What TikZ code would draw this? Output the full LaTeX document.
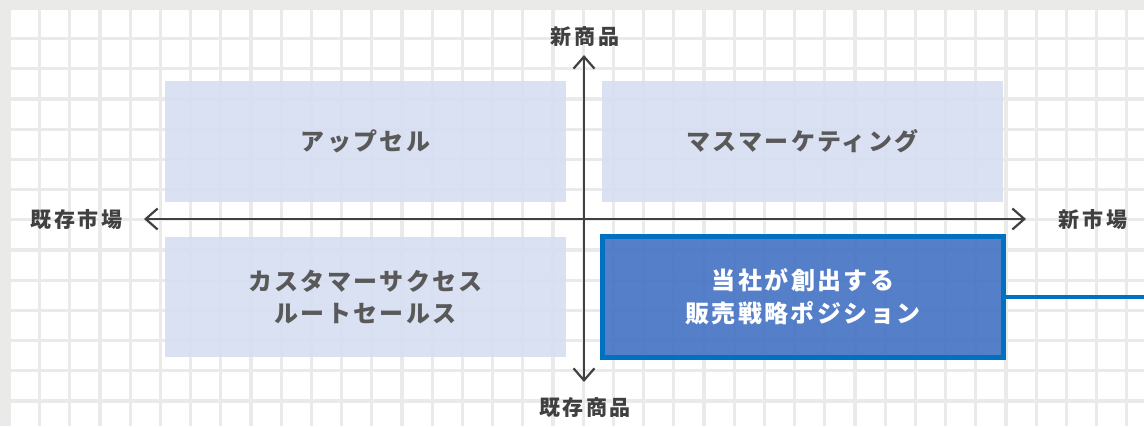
\documentclass[tikz,border=0pt]{standalone}
\usepackage{fontspec}
\setmainfont{Noto Sans CJK JP}
\newfontfamily\jpbox[LetterSpace=10]{Noto Sans CJK JP}
\newfontfamily\jpaxis[LetterSpace=12]{Noto Sans CJK JP}
\usetikzlibrary{arrows.meta}
\definecolor{gridgray}{RGB}{234,234,232}
\definecolor{lightbox}{RGB}{213,222,241}
\definecolor{darkbox}{RGB}{68,114,196}
\definecolor{darkborder}{RGB}{0,112,192}
\definecolor{axiscol}{RGB}{64,64,64}
\definecolor{boxtext}{RGB}{89,89,89}
\tikzset{
  lbox/.style={fill=lightbox, fill opacity=0.9, text opacity=1, inner sep=0pt,
    minimum width=401pt, text=boxtext, font=\jpbox\fontsize{24}{32}\selectfont\bfseries, align=center},
  dbox/.style={fill=darkbox, fill opacity=0.9, text opacity=1, draw=darkborder, draw opacity=1,
    line width=5pt, inner sep=0pt, minimum width=401pt, minimum height=121pt,
    text=white, font=\jpbox\fontsize{24}{33}\selectfont\bfseries, align=center},
  axis/.style={draw=axiscol, line width=2.2pt, {Straight Barb[length=12pt,width=21pt]}-{Straight Barb[length=12pt,width=21pt]}},
  axlabel/.style={text=axiscol, font=\jpaxis\fontsize{21}{24}\selectfont\bfseries, inner sep=0pt},
  link/.style={draw=darkborder, line width=4pt}
}
\begin{document}
\begin{tikzpicture}[x=1pt,y=-1pt]
\useasboundingbox (0,0) rectangle (1144,426);
\fill[gridgray] (0,0) rectangle (1144,426);
\fill[white] (11,10) rectangle (1144,426);
\foreach \i in {1,...,37} \fill[gridgray] ({11+30.2*\i-3.2},10) rectangle ({11+30.2*\i},426);
\foreach \j in {1,...,13} \fill[gridgray] (11,{10+30.2*\j-3.2}) rectangle (1144,{10+30.2*\j});

\node[lbox, minimum height=121pt] (ul) at (365.5,141.5) {アップセル};
\node[lbox, minimum height=121pt] (ur) at (802.5,141.5) {マスマーケティング};
\node[lbox, minimum height=120pt] (ll) at (365.5,297) {カスタマーサクセス\\ルートセールス};
\node[dbox] (lr) at (803,297) {当社が創出する\\販売戦略ポジション};
\coordinate (edge) at (1144,297);
\draw[link] (lr.east) -- (edge);

\node[axlabel] (top) at (585,37) {新商品};
\node[axlabel] (bottom) at (585,408) {既存商品};
\node[axlabel] (left) at (76.5,220) {既存市場};
\node[axlabel] (right) at (1093,220) {新市場};

\coordinate (xl) at (144,219);
\coordinate (xr) at (1026,219);
\coordinate (yt) at (584,55);
\coordinate (yb) at (584,382);
\draw[axis] (xl) -- (xr);
\draw[axis] (yb) -- (yt);
\end{tikzpicture}
\end{document}
